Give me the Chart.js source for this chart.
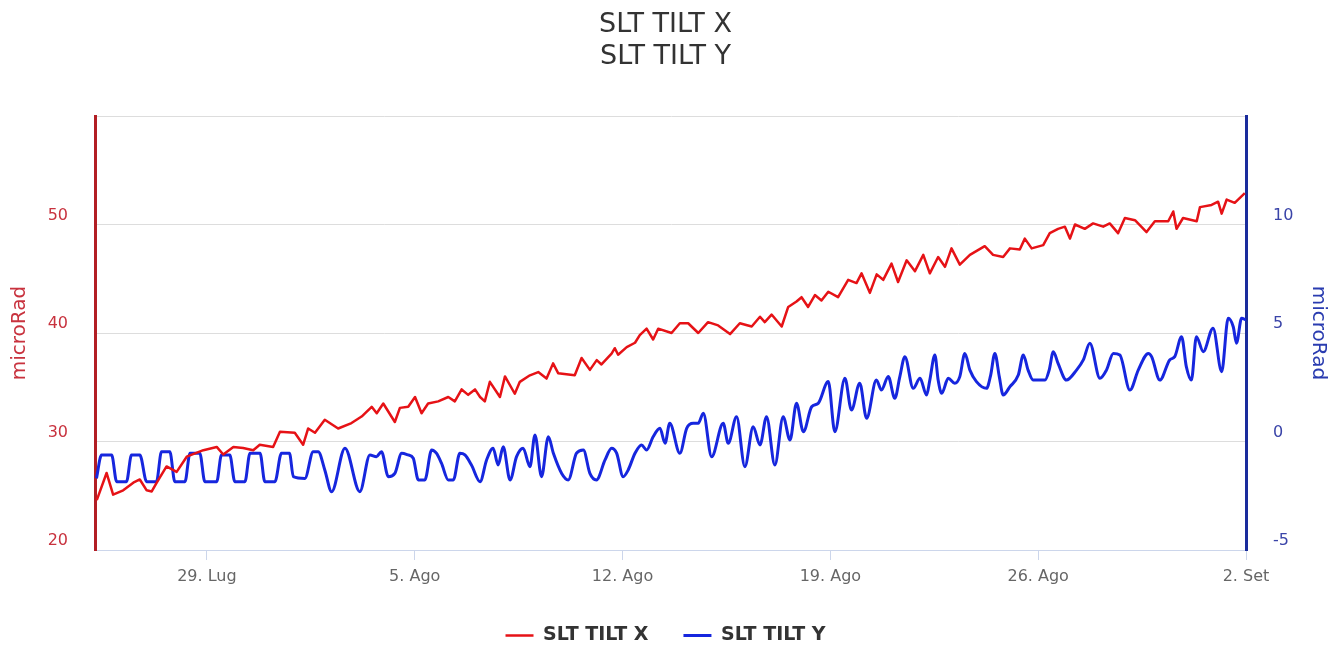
<!DOCTYPE html>
<html>
<head>
<meta charset="utf-8">
<script src="https://cdn.jsdelivr.net/npm/chart.js@4.4.1/dist/chart.umd.min.js"></script>
<style>
  html, body { margin: 0; padding: 0; background: #fff; }
</style>
</head>
<body>
<canvas id="myChart" width="1331" height="646"></canvas>
<script>
// tempo in giorni (1 = 1 Lug, 32 = 1 Ago, 63 = 1 Set)
const redTimes = [25.29, 25.62, 25.84, 26.18, 26.52, 26.74, 26.97, 27.14, 27.31, 27.64, 27.98, 28.32, 28.88, 29.33, 29.55, 29.89, 30.22, 30.56, 30.78, 31.23, 31.46, 31.96, 32.24, 32.41, 32.64, 32.97, 33.42, 33.87, 34.21, 34.55, 34.72, 34.94, 35.33, 35.5, 35.78, 36.01, 36.23, 36.45, 36.79, 37.13, 37.35, 37.58, 37.8, 38.03, 38.2, 38.36, 38.53, 38.87, 39.04, 39.37, 39.54, 39.88, 40.16, 40.44, 40.66, 40.83, 41.39, 41.62, 41.9, 42.13, 42.29, 42.63, 42.74, 42.85, 43.14, 43.42, 43.58, 43.81, 44.03, 44.2, 44.65, 44.93, 45.21, 45.55, 45.88, 46.22, 46.62, 46.95, 47.35, 47.63, 47.79, 48.02, 48.36, 48.58, 48.86, 49.03, 49.25, 49.48, 49.7, 49.93, 50.26, 50.6, 50.88, 51.05, 51.33, 51.56, 51.78, 52.06, 52.28, 52.57, 52.85, 53.13, 53.35, 53.63, 53.86, 54.08, 54.36, 54.7, 55.2, 55.48, 55.82, 56.05, 56.38, 56.55, 56.78, 57.17, 57.39, 57.67, 57.9, 58.07, 58.24, 58.57, 58.85, 59.19, 59.41, 59.69, 59.92, 60.26, 60.65, 60.93, 61.38, 61.55, 61.66, 61.88, 62.34, 62.45, 62.84, 63.06, 63.18, 63.35, 63.62, 63.96];
const redValues = [24.6, 27.1, 25.1, 25.5, 26.2, 26.5, 25.5, 25.4, 26.2, 27.7, 27.2, 28.6, 29.2, 29.5, 28.8, 29.5, 29.4, 29.2, 29.7, 29.5, 30.9, 30.8, 29.7, 31.2, 30.8, 32.0, 31.2, 31.7, 32.3, 33.2, 32.6, 33.5, 31.8, 33.1, 33.2, 34.1, 32.6, 33.5, 33.7, 34.1, 33.7, 34.8, 34.3, 34.8, 34.1, 33.7, 35.5, 34.1, 36.0, 34.4, 35.5, 36.1, 36.4, 35.8, 37.2, 36.3, 36.1, 37.7, 36.6, 37.5, 37.1, 38.1, 38.6, 38.0, 38.7, 39.1, 39.8, 40.4, 39.4, 40.4, 40.0, 40.9, 40.9, 40.0, 41.0, 40.7, 39.9, 40.9, 40.6, 41.5, 41.0, 41.7, 40.6, 42.4, 42.9, 43.3, 42.4, 43.5, 43.0, 43.8, 43.3, 44.9, 44.6, 45.5, 43.7, 45.4, 44.9, 46.4, 44.7, 46.7, 45.7, 47.2, 45.5, 47.0, 46.1, 47.8, 46.3, 47.2, 48.0, 47.2, 47.0, 47.8, 47.7, 48.7, 47.8, 48.1, 49.2, 49.6, 49.8, 48.7, 50.0, 49.6, 50.1, 49.8, 50.1, 49.2, 50.6, 50.4, 49.3, 50.3, 50.3, 51.2, 49.6, 50.6, 50.3, 51.6, 51.8, 52.1, 51.0, 52.3, 52.0, 52.9];

const blueTimes = [25.28, 25.45, 25.79, 25.96, 26.29, 26.46, 26.74, 26.97, 27.30, 27.47, 27.75, 27.92, 28.26, 28.43, 28.76, 28.93, 29.33, 29.49, 29.77, 29.94, 30.28, 30.45, 30.79, 30.95, 31.29, 31.51, 31.78, 31.91, 32.30, 32.58, 32.75, 32.97, 33.20, 33.65, 34.15, 34.49, 34.71, 34.88, 35.11, 35.33, 35.56, 35.78, 35.95, 36.12, 36.34, 36.57, 36.73, 36.90, 37.13, 37.30, 37.52, 37.69, 37.91, 38.20, 38.42, 38.64, 38.81, 38.98, 39.21, 39.43, 39.65, 39.88, 40.05, 40.27, 40.50, 40.67, 40.95, 41.17, 41.45, 41.68, 41.90, 42.12, 42.41, 42.63, 42.80, 43.02, 43.19, 43.42, 43.64, 43.81, 44.03, 44.26, 44.43, 44.59, 44.93, 45.16, 45.38, 45.55, 45.72, 46.00, 46.39, 46.56, 46.84, 47.12, 47.40, 47.63, 47.85, 48.13, 48.41, 48.64, 48.86, 49.09, 49.37, 49.59, 49.93, 50.15, 50.49, 50.71, 50.99, 51.22, 51.55, 51.72, 51.95, 52.17, 52.34, 52.51, 52.79, 53.02, 53.24, 53.35, 53.52, 53.63, 53.75, 53.97, 54.19, 54.36, 54.53, 54.70, 54.92, 55.26, 55.40, 55.54, 55.69, 55.82, 56.05, 56.33, 56.50, 56.66, 56.83, 57.23, 57.37, 57.51, 57.67, 57.95, 58.29, 58.52, 58.74, 59.08, 59.30, 59.53, 59.75, 60.09, 60.37, 60.71, 60.82, 61.10, 61.43, 61.60, 61.83, 61.99, 62.16, 62.33, 62.56, 62.89, 63.18, 63.40, 63.57, 63.68, 63.85, 64.00];
const blueValues = [-1.7, -0.62, -0.62, -1.85, -1.85, -0.62, -0.62, -1.85, -1.85, -0.47, -0.47, -1.85, -1.85, -0.54, -0.54, -1.85, -1.85, -0.62, -0.62, -1.85, -1.85, -0.54, -0.54, -1.85, -1.85, -0.54, -0.54, -1.62, -1.70, -0.47, -0.47, -1.31, -2.31, -0.31, -2.31, -0.62, -0.70, -0.47, -1.62, -1.47, -0.54, -0.62, -0.77, -1.77, -1.77, -0.39, -0.54, -1.00, -1.77, -1.77, -0.54, -0.62, -1.08, -1.85, -0.85, -0.31, -1.08, -0.24, -1.77, -0.70, -0.31, -1.16, 0.30, -1.62, 0.22, -0.54, -1.47, -1.77, -0.54, -0.39, -1.47, -1.77, -0.85, -0.31, -0.54, -1.62, -1.31, -0.54, -0.16, -0.39, 0.22, 0.61, -0.08, 0.84, -0.54, 0.61, 0.84, 0.84, 1.30, -0.70, 0.84, -0.08, 1.14, -1.16, 0.68, -0.16, 1.14, -1.08, 1.14, 0.07, 1.76, 0.45, 1.60, 1.76, 2.76, 0.45, 2.91, 1.45, 2.68, 1.07, 2.83, 2.37, 2.99, 1.99, 2.99, 3.91, 2.45, 2.91, 2.14, 2.83, 3.99, 2.83, 2.22, 2.91, 2.68, 2.99, 4.06, 3.29, 2.76, 2.45, 3.06, 4.06, 2.99, 2.14, 2.53, 3.06, 3.99, 3.29, 2.83, 2.83, 3.29, 4.14, 3.60, 2.83, 3.29, 3.76, 4.53, 2.91, 3.29, 4.06, 3.99, 2.37, 3.29, 4.06, 3.91, 2.83, 3.76, 3.91, 4.83, 3.45, 2.83, 4.83, 4.14, 5.22, 3.22, 5.68, 5.29, 4.53, 5.68, 5.60];

const tickDays = [29, 36, 43, 50, 57, 64];
const tickLabels = ['29. Lug', '5. Ago', '12. Ago', '19. Ago', '26. Ago', '2. Set'];
const leftTicks = [20, 30, 40, 50];
const rightTicks = [-5, 0, 5, 10];

const seriesNames = ['SLT TILT X', 'SLT TILT Y'];

const redColor = 'rgb(230, 18, 22)';
const blueColor = 'rgb(22, 38, 222)';
const bottomShift = 9;

const ctx = document.getElementById('myChart');
const myChart = new Chart(ctx, {
  type: 'line',
  data: {
    datasets: [{
      label: seriesNames[0],
      data: redTimes.map((t, i) => ({ x: t, y: redValues[i] })),
      yAxisID: 'yLeft',
      borderColor: redColor,
      backgroundColor: redColor,
      borderWidth: 2.5,
      pointRadius: 0,
      tension: 0,
      borderJoinStyle: 'round',
    }, {
      label: seriesNames[1],
      data: blueTimes.map((t, i) => ({ x: t, y: blueValues[i] })),
      yAxisID: 'yRight',
      borderColor: blueColor,
      backgroundColor: blueColor,
      borderWidth: 3,
      pointRadius: 0,
      cubicInterpolationMode: 'monotone',
    }]
  },
  options: {
    responsive: false,
    animation: false,
    devicePixelRatio: 1,
    layout: { padding: { left: 0, right: 0, top: 0, bottom: -bottomShift } },
    plugins: {
      title: {
        display: true,
        text: seriesNames,
        color: '#333333',
        font: { family: 'DejaVu Sans', size: 27, weight: 'normal', lineHeight: '32px' },
        padding: { top: 9, bottom: 43 },
      },
      legend: {
        position: 'bottom',
        labels: {
          usePointStyle: true,
          pointStyle: 'line',
          pointStyleWidth: 28,
          padding: 35,
          color: '#333333',
          font: { family: 'DejaVu Sans', size: 19, weight: 'bold' },
        }
      },
      tooltip: { enabled: false },
    },
    scales: {
      x: {
        type: 'linear',
        min: 25.23,
        max: 64,
        afterBuildTicks: scale => {
          scale.ticks = tickDays.map(v => ({ value: v }));
        },
        afterFit: scale => {
          scale.height = scale.chart.height + bottomShift - scale.chart.legend.height - 550;
        },
        grid: { drawOnChartArea: false, drawTicks: true, tickLength: 10, color: '#ccd6eb' },
        border: { display: true, color: '#ccd6eb', width: 1 },
        ticks: {
          autoSkip: false,
          maxRotation: 0,
          padding: 7,
          color: '#666666',
          font: { family: 'DejaVu Sans', size: 16 },
          callback: v => tickLabels[tickDays.indexOf(v)],
        }
      },
      yLeft: {
        position: 'left',
        min: 20,
        max: 60,
        afterFit: scale => { scale.width = 95; },
        grid: { color: '#dddddd', lineWidth: 1, drawTicks: false },
        border: { display: true, color: '#b21e24', width: 3 },
        title: {
          display: true,
          text: 'microRad',
          color: '#c8323e',
          font: { family: 'DejaVu Sans', size: 20 },
          padding: { top: 8, bottom: 0 },
        },
        ticks: {
          stepSize: 10,
          padding: 27,
          labelOffset: -9,
          color: '#c8323e',
          font: { family: 'DejaVu Sans', size: 16 },
          callback: v => leftTicks.includes(v) ? String(v) : '',
        }
      },
      yRight: {
        position: 'right',
        min: -5,
        max: 15,
        afterFit: scale => { scale.width = 85; },
        grid: { drawOnChartArea: false, drawTicks: false },
        border: { display: true, color: '#1a2c9c', width: 3 },
        title: {
          display: true,
          text: 'microRad',
          color: '#2a3cb0',
          font: { family: 'DejaVu Sans', size: 20 },
          padding: { top: 1, bottom: 0 },
        },
        ticks: {
          stepSize: 5,
          padding: 27,
          labelOffset: -9,
          color: '#3a44a8',
          font: { family: 'DejaVu Sans', size: 16 },
          callback: v => rightTicks.includes(v) ? String(v) : '',
        }
      }
    }
  }
});
</script>
</body>
</html>
